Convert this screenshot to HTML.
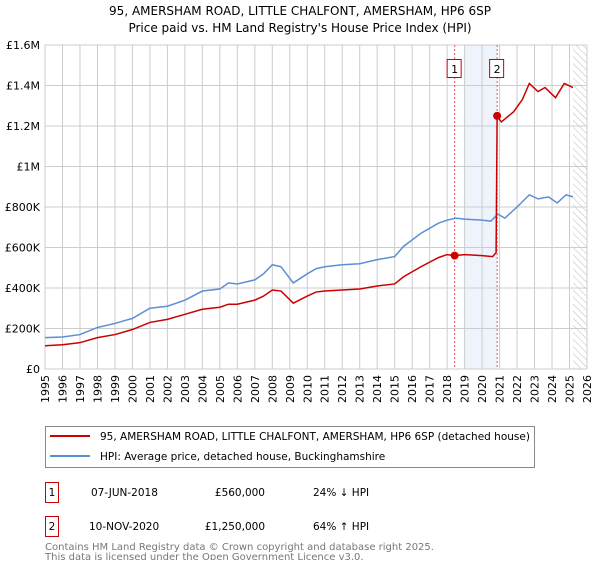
<!DOCTYPE html>
<html><head><meta charset="utf-8"><style>
body{margin:0;background:#fff;font-family:"Liberation Sans","DejaVu Sans",sans-serif}
svg text{font-family:"DejaVu Sans","Liberation Sans",sans-serif}
</style></head><body>
<svg id="c" width="600" height="560" xmlns="http://www.w3.org/2000/svg">
<text x="300" y="15" text-anchor="middle" font-size="12" fill="#000">95, AMERSHAM ROAD, LITTLE CHALFONT, AMERSHAM, HP6 6SP</text>
<text x="300" y="32" text-anchor="middle" font-size="12" fill="#000">Price paid vs. HM Land Registry's House Price Index (HPI)</text>
<g id="plot"></g>
<rect x="45.5" y="426.5" width="489" height="41" fill="#fff" stroke="#888"/>
<line x1="50" y1="436" x2="90" y2="436" stroke="#cc0000" stroke-width="2"/>
<text x="100" y="440" font-size="10.5">95, AMERSHAM ROAD, LITTLE CHALFONT, AMERSHAM, HP6 6SP (detached house)</text>
<line x1="50" y1="456" x2="90" y2="456" stroke="#5b8fd4" stroke-width="2"/>
<text x="100" y="460" font-size="10.5">HPI: Average price, detached house, Buckinghamshire</text>
<g font-size="10.5">
<rect x="45.5" y="482.5" width="13" height="20" fill="#fff" stroke="#cc0000"/>
<text x="52" y="496" text-anchor="middle">1</text>
<text x="91" y="496">07-JUN-2018</text>
<text x="265" y="496" text-anchor="end">£560,000</text>
<text x="313" y="496">24% ↓ HPI</text>
<rect x="45.5" y="516.5" width="13" height="20" fill="#fff" stroke="#cc0000"/>
<text x="52" y="530" text-anchor="middle">2</text>
<text x="89" y="530">10-NOV-2020</text>
<text x="265" y="530" text-anchor="end">£1,250,000</text>
<text x="313" y="530">64% ↑ HPI</text>
</g>
<text x="45" y="550" font-size="10" fill="#777">Contains HM Land Registry data © Crown copyright and database right 2025.</text>
<text x="45" y="560" font-size="10" fill="#777">This data is licensed under the Open Government Licence v3.0.</text>
</svg>
<script>
const hpiYears=[1995,1996,1997,1998,1999,2000,2001,2002,2003,2004,2005,2005.5,2006,2007,2007.5,2008,2008.5,2009.2,2010,2010.5,2011,2012,2013,2014,2015,2015.5,2016.5,2017.5,2018,2018.5,2019,2020,2020.5,2020.9,2021.3,2022,2022.7,2023.2,2023.8,2024.3,2024.8,2025.2];
const hpiValues=[155,158,170,205,225,250,300,310,340,385,395,425,420,440,470,515,505,425,470,495,505,515,520,540,555,605,670,720,735,745,740,735,730,765,745,800,860,840,850,820,860,850];
const propYears=[1995,1996,1997,1998,1999,2000,2001,2002,2003,2004,2005,2005.5,2006,2007,2007.5,2008,2008.5,2009.2,2010,2010.5,2011,2012,2013,2014,2015,2015.5,2016.5,2017.5,2018,2018.43,2019,2020,2020.6,2020.8,2020.86,2021.1,2021.8,2022.3,2022.7,2023.2,2023.6,2024.2,2024.7,2025.2];
const propValues=[115,120,130,155,170,195,230,245,270,295,305,320,320,340,360,390,385,325,360,380,385,390,395,410,420,455,505,550,565,560,565,560,555,575,1250,1220,1270,1330,1410,1370,1390,1340,1410,1390];
const saleYears=[2018.43,2020.86];
const saleValues=[560,1250];
const saleLabels=["1","2"];
const yTicks=[0,200,400,600,800,1000,1200,1400,1600];
const yTickLabels=["£0","£200K","£400K","£600K","£800K","£1M","£1.2M","£1.4M","£1.6M"];
const xTicks=[1995,1996,1997,1998,1999,2000,2001,2002,2003,2004,2005,2006,2007,2008,2009,2010,2011,2012,2013,2014,2015,2016,2017,2018,2019,2020,2021,2022,2023,2024,2025,2026];
const X0=45,X1=587,Y0=369,Y1=45;
const xs=y=>X0+(y-1995)/(2026-1995)*(X1-X0);
const ys=v=>Y0-v/1600*(Y0-Y1);
const NS="http://www.w3.org/2000/svg";
const g=document.getElementById('plot');
function mk(t,a){const e=document.createElementNS(NS,t);for(const k in a)e.setAttribute(k,a[k]);g.appendChild(e);return e;}
let e;
e=mk('rect',{x:xs(2019),y:Y1,width:xs(2020.86)-xs(2019),height:Y0-Y1,fill:'#eef3fc'});


const defs=document.createElementNS(NS,'defs');defs.innerHTML='<pattern id="h" width="5" height="5" patternUnits="userSpaceOnUse" patternTransform="rotate(-45)"><line x1="0" y1="0" x2="0" y2="5" stroke="#bbb" stroke-width="1"/></pattern>';g.appendChild(defs);
e=mk('rect',{x:xs(2025.2),y:Y1,width:X1-xs(2025.2),height:Y0-Y1,fill:'url(#h)'});


xTicks.forEach((t,i)=>{
 e=mk('line',{x1:xs(t),x2:xs(t),y1:Y1,y2:Y0,stroke:'#ccc','stroke-width':1});
 
 
 e=mk('text',{x:0,y:0,'font-size':11,'text-anchor':'end',transform:`translate(${xs(t)+4},${Y0+6}) rotate(-90)`});
 e.textContent=t;
 
 
});
yTicks.forEach((t,i)=>{
 e=mk('line',{x1:X0,x2:X1,y1:ys(t),y2:ys(t),stroke:'#ccc','stroke-width':1});
 
 
 e=mk('text',{x:X0-5,y:ys(t)+4,'font-size':11,'text-anchor':'end'});
 e.textContent=yTickLabels[i];
 
 
});
saleYears.forEach((y,i)=>{
 e=mk('line',{x1:xs(y),x2:xs(y),y1:Y1,y2:Y0,stroke:'#e55','stroke-width':1,'stroke-dasharray':'2,2'});
 
 
 e=mk('rect',{x:xs(y)-7.5,y:59.5,width:14,height:18,fill:'#fff',stroke:'#cc0000'});
 
 
 e=mk('text',{x:xs(y),y:73,'font-size':11,'text-anchor':'middle'});
 e.textContent=saleLabels[i];
 
 
});
e=mk('polyline',{points:hpiYears.map((y,i)=>xs(y)+','+ys(hpiValues[i])).join(' '),fill:'none',stroke:'#5b8fd4','stroke-width':1.5});


e=mk('polyline',{points:propYears.map((y,i)=>xs(y)+','+ys(propValues[i])).join(' '),fill:'none',stroke:'#cc0000','stroke-width':1.5});


saleYears.forEach((y,i)=>{
 e=mk('circle',{cx:xs(y),cy:ys(saleValues[i]),r:4,fill:'#cc0000'});
 
 
});
</script>
</body></html>
